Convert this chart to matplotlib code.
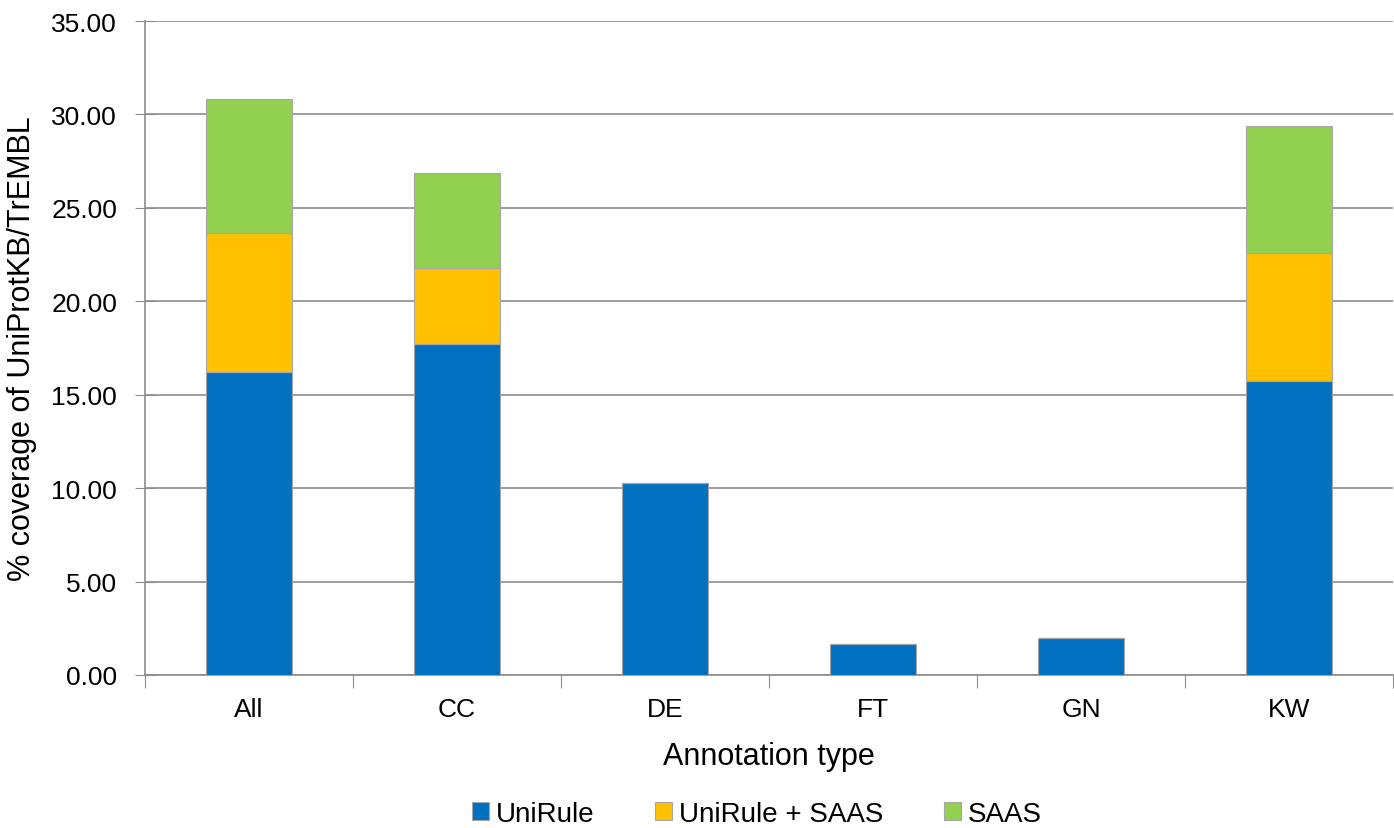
import numpy as np
import matplotlib
matplotlib.use("Agg")
import matplotlib.pyplot as plt

plt.rcParams['font.family'] = ['Liberation Sans', 'DejaVu Sans']

categories = ["All", "CC", "DE", "FT", "GN", "KW"]
unirule = [16.19, 17.70, 10.30, 1.66, 2.00, 15.72]
unirule_saas = [7.49, 4.06, 0.0, 0.0, 0.0, 6.85]
saas = [7.14, 5.08, 0.0, 0.0, 0.0, 6.79]

series = [("UniRule", unirule, "#0070C0"),
          ("UniRule + SAAS", unirule_saas, "#FFC000"),
          ("SAAS", saas, "#92D050")]

fig = plt.figure(figsize=(13.94, 8.29), dpi=100)
ax = fig.add_axes([145 / 1394, 1 - 676 / 829, (1393 - 145) / 1394, (676 - 22) / 829])

x = np.arange(len(categories))
bottom = np.zeros(len(categories))
for name, vals, col in series:
    vals = np.array(vals)
    ax.bar(x, vals, width=0.41, bottom=bottom, color=col, edgecolor="#A6A6A6",
           linewidth=0.8, label=name, zorder=3)
    bottom += vals

ax.set_ylim(0, 35)
ax.set_xlim(-0.5, len(categories) - 0.5)
yt = np.arange(0, 35.1, 5)
ax.set_yticks(yt)
ax.set_yticklabels([f"{v:.2f}" for v in yt], fontsize=19)
ax.yaxis.grid(True, color="#8C8C8C", linewidth=1.2, zorder=0)
ax.tick_params(axis="y", direction="inout", length=14, color="#8C8C8C", pad=13)

ax.set_xticks(np.arange(-0.5, len(categories), 1))
ax.set_xticklabels([])
ax.tick_params(axis="x", which="major", direction="out", length=9, color="#8C8C8C")
ax.set_xticks(x, minor=True)
ax.set_xticklabels(categories, minor=True, fontsize=19)
ax.tick_params(axis="x", which="minor", length=0, pad=16)

for s in ["top", "right"]:
    ax.spines[s].set_visible(False)
for s in ["left", "bottom"]:
    ax.spines[s].set_color("#8C8C8C")
    ax.spines[s].set_linewidth(1.2)

ax.set_xlabel("Annotation type", fontsize=22, labelpad=14)
ax.set_ylabel("% coverage of UniProtKB/TrEMBL", fontsize=22, labelpad=10)

fig.legend(loc="center", bbox_to_anchor=(757 / 1394, 1 - 815 / 829), ncol=3, frameon=False,
           fontsize=20, handlelength=0.6, handleheight=0.6, handletextpad=0.25,
           columnspacing=2.2)

fig.savefig("out.png", dpi=100)
